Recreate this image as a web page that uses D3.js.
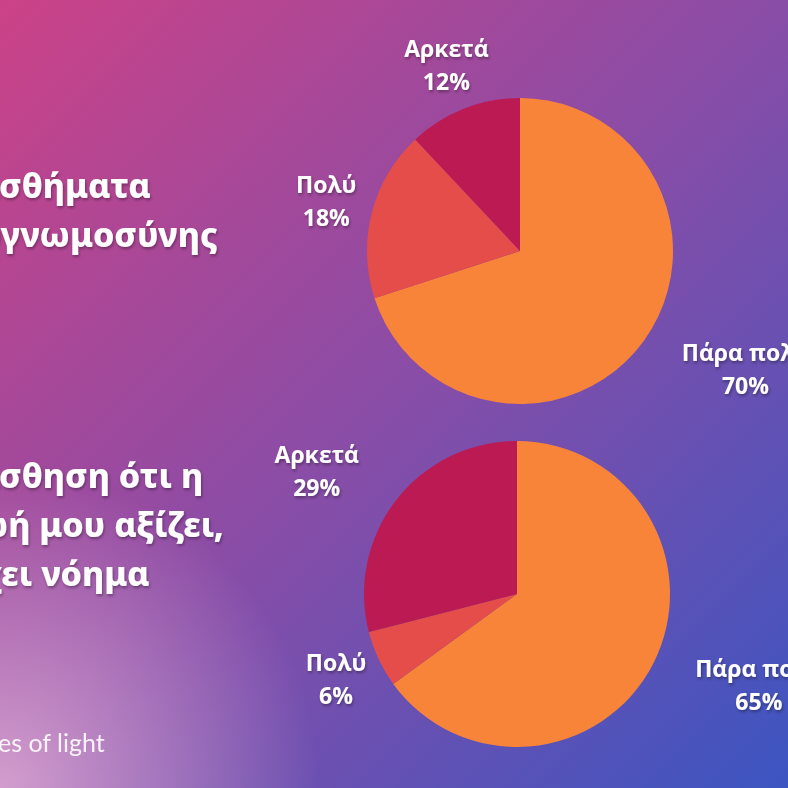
<!DOCTYPE html>
<head>
<meta charset="utf-8">
<title>Pie charts</title>
<script src="https://d3js.org/d3.v7.min.js"></script>
<style>
body { margin: 0; overflow: hidden; }
svg { display: block; }
</style>
</head>
<body>
<div id="container"></div>
<script>
//---------------------------DATA-------------------------------//
const categories = ["Πάρα πολύ", "Πολύ", "Αρκετά"];
const gratitudeValues = [70, 18, 12];
const meaningValues = [65, 6, 29];
const gratitudeTitle = ["Αισθήματα", "ευγνωμοσύνης"];
const meaningTitle = ["Αίσθηση ότι η", "ζωή μου αξίζει,", "έχει νόημα"];
const sliceColors = ["#F8843A", "#E44D4A", "#BC1A52"];

//---------------------------SVG--------------------------------//
const width = 788;
const height = 788;
const radius = 153;
const labelRadius = 200;

const svg = d3.select("#container").append("svg")
    .attr("width", width)
    .attr("height", height);

const defs = svg.append("defs");

const bg = defs.append("linearGradient")
    .attr("id", "bg")
    .attr("x1", 0).attr("y1", 0).attr("x2", 1).attr("y2", 1);
bg.append("stop").attr("offset", "0%").attr("stop-color", "#CC4287");
bg.append("stop").attr("offset", "50%").attr("stop-color", "#894DA7");
bg.append("stop").attr("offset", "100%").attr("stop-color", "#3C55C1");

const glow = defs.append("radialGradient")
    .attr("id", "glow")
    .attr("gradientUnits", "userSpaceOnUse")
    .attr("cx", 0).attr("cy", height).attr("r", 320);
glow.append("stop").attr("offset", "0%").attr("stop-color", "#F2C0DE").attr("stop-opacity", 0.7);
glow.append("stop").attr("offset", "100%").attr("stop-color", "#F2C0DE").attr("stop-opacity", 0);

const shadow = defs.append("filter")
    .attr("id", "shadow")
    .attr("x", "-20%").attr("y", "-30%").attr("width", "140%").attr("height", "160%");
shadow.append("feDropShadow")
    .attr("dx", 1).attr("dy", 2).attr("stdDeviation", 1.5)
    .attr("flood-color", "#000").attr("flood-opacity", 0.35);

svg.append("rect").attr("width", width).attr("height", height).attr("fill", "url(#bg)");
svg.append("rect").attr("width", width).attr("height", height).attr("fill", "url(#glow)");

//--------------------------TITLES------------------------------//
function drawTitle(lines, x, y) {
    svg.append("text")
        .attr("x", x)
        .attr("y", y)
        .attr("fill", "#fff")
        .attr("filter", "url(#shadow)")
        .style("font-family", "'Noto Sans', sans-serif")
        .style("font-weight", 800)
        .style("font-size", "34px")
        .selectAll("tspan")
        .data(lines)
        .join("tspan")
        .attr("x", x)
        .attr("dy", (d, i) => i === 0 ? 0 : 49)
        .text(d => d);
}
drawTitle(gratitudeTitle, -38, 198);
drawTitle(meaningTitle, -38, 488);

// logo
svg.append("text")
    .attr("x", -2)
    .attr("y", 752)
    .attr("fill", "#fff")
    .attr("opacity", 0.9)
    .style("font-family", "Lato, sans-serif")
    .style("font-weight", 400)
    .style("font-size", "25px")
    .text("es of light");

//--------------------------PIES--------------------------------//
const pie = d3.pie().sort(null).value(d => d);
const arc = d3.arc().innerRadius(0).outerRadius(radius);

function drawPie(values, cx, cy) {
    const g = svg.append("g").attr("transform", "translate(" + cx + "," + cy + ")");
    const arcs = pie(values).map((a, i) => Object.assign(a, { name: categories[i] }));

    g.selectAll("path")
        .data(arcs)
        .join("path")
        .attr("d", arc)
        .attr("fill", (d, i) => sliceColors[i]);

    const labels = g.selectAll("g.label")
        .data(arcs)
        .join("g")
        .attr("class", "label")
        .attr("filter", "url(#shadow)");

    labels.each(function(d) {
        const lg = d3.select(this);
        const mid = (d.startAngle + d.endAngle) / 2;
        const px = labelRadius * Math.sin(mid);
        const py = -labelRadius * Math.cos(mid);
        const t = lg.append("text")
            .attr("text-anchor", "middle")
            .attr("fill", "#fff")
            .style("font-family", "'Open Sans', sans-serif")
            .style("font-weight", 700)
            .style("font-size", "23px");
        t.append("tspan").attr("x", 0).attr("y", py - 8).text(d.name);
        t.append("tspan").attr("x", 0).attr("y", py + 25).text(d.value + "%");
        const w = t.node().getBBox().width;
        // push the label sideways when its box would touch the pie
        const nx = Math.max(px - w / 2, Math.min(0, px + w / 2));
        const ny = Math.max(py - 25, Math.min(0, py + 25));
        let x = px;
        if (Math.hypot(nx, ny) < radius + 5) {
            x = px + (Math.sin(mid) > 0 ? w / 2 : -w / 2);
        }
        t.attr("transform", "translate(" + x + ",0)");
    });
}

drawPie(gratitudeValues, 520, 251);
drawPie(meaningValues, 517, 594);
</script>
</body>
